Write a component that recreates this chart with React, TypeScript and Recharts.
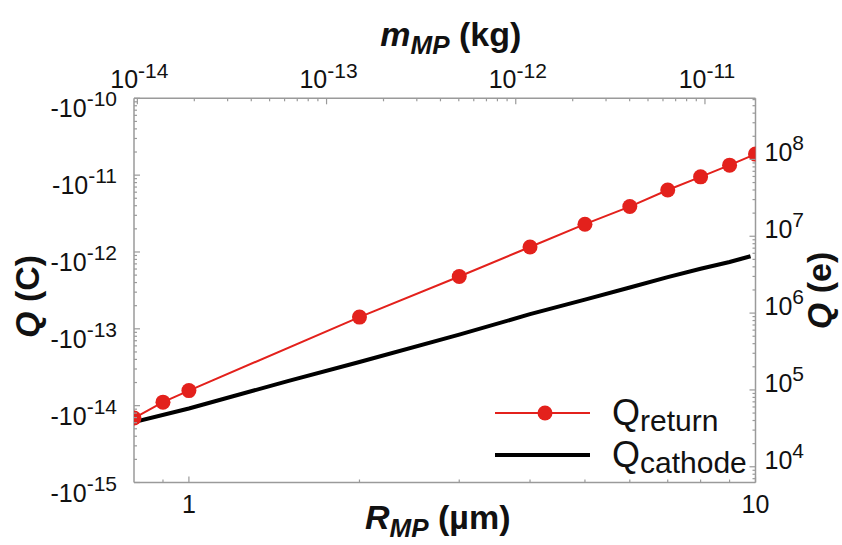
import { LineChart, Line, XAxis, YAxis, Legend } from "recharts"

const RED = "#e3211c"
const AXIS = "#9a9a9a"
const FONT = "'Liberation Sans', Arial, sans-serif"
const E_CHARGE = 1.602e-19

// Q_return samples (R in µm, Q in C)
const returnRadius = [0.8, 0.9, 1, 2, 3, 4, 5, 6, 7, 8, 9, 10]
const returnCharge = [
  -6.9e-15, -1.11e-14, -1.57e-14, -1.42e-13, -4.8e-13, -1.16e-12,
  -2.3e-12, -3.9e-12, -6.4e-12, -9.5e-12, -1.35e-11, -1.88e-11,
]

// Q_cathode curve
const cathodeRadius = [0.8, 1, 1.5, 2, 3, 4, 5, 6, 7, 8, 9, 9.8]
const cathodeCharge = [
  -6.1e-15, -9.2e-15, -2.1e-14, -3.7e-14, -8.4e-14, -1.55e-13,
  -2.4e-13, -3.45e-13, -4.7e-13, -6.05e-13, -7.4e-13, -8.8e-13,
]

// axes
const radiusDomain = [0.8, 10]
const radiusTicks = [0.9, 1, 2, 3, 4, 5, 6, 7, 8, 9, 10]
const radiusLabels = [1, 10]
const chargeExps = [-15, -14, -13, -12, -11, -10]
const electronExps = [4, 5, 6, 7, 8]
const massExps = [-14, -13, -12, -11]
const massDomain = [9.6e-15, 1.85e-11]

const withMinors = (exps: number[], lo: number, hi: number) => {
  const out: number[] = []
  for (let e = exps[0] - 1; e <= exps[exps.length - 1]; e++) {
    for (let k = 1; k < 10; k++) {
      const v = k * Math.pow(10, e)
      if (v >= lo * 0.999 && v <= hi * 1.001) out.push(v)
    }
  }
  return out
}

const chargeDomain = [1e-15, 1e-10]
const electronDomain = [chargeDomain[0] / E_CHARGE, chargeDomain[1] / E_CHARGE]
const chargeTicks = withMinors(chargeExps, chargeDomain[0], chargeDomain[1])
const electronTicks = withMinors(electronExps, electronDomain[0], electronDomain[1])
const massTicks = withMinors(massExps, massDomain[0], massDomain[1])

const returnData = returnRadius.map((r, i) => ({ r, q: -returnCharge[i] }))
const cathodeData = cathodeRadius.map((r, i) => ({ r, q: -cathodeCharge[i] }))
// invisible helper so the top (mass) axis gets a scale
const massEdges = massDomain.map((m) => ({ m, q: chargeDomain[0] }))

const isDecade = (v: number) => {
  const l = Math.log10(v)
  return Math.abs(l - Math.round(l)) < 1e-6
}

const tickStroke = { stroke: AXIS, strokeWidth: 1.2 }

const LeftTick = ({ x, y, payload }: any) => {
  const major = isDecade(payload.value)
  return (
    <g>
      <line x1={x} x2={x + (major ? 6 : 3)} y1={y} y2={y} {...tickStroke} />
      {major && (
        <text x={x - 17} y={y + 19} textAnchor="end" fill="#111" fontFamily={FONT}>
          <tspan fontSize={25}>-10</tspan>
          <tspan fontSize={21} dy={-11}>{Math.round(Math.log10(payload.value))}</tspan>
        </text>
      )}
    </g>
  )
}

const RightTick = ({ x, y, payload }: any) => {
  const major = isDecade(payload.value)
  return (
    <g>
      <line x1={x} x2={x - (major ? 6 : 3)} y1={y} y2={y} {...tickStroke} />
      {major && (
        <text x={x + 9} y={y + 2} textAnchor="start" fill="#111" fontFamily={FONT}>
          <tspan fontSize={25}>10</tspan>
          <tspan fontSize={21} dy={-11}>{Math.round(Math.log10(payload.value))}</tspan>
        </text>
      )}
    </g>
  )
}

const TopTick = ({ x, y, payload }: any) => {
  const major = isDecade(payload.value)
  return (
    <g>
      <line x1={x} x2={x} y1={y} y2={y + (major ? 6 : 3)} {...tickStroke} />
      {major && (
        <text x={x + 2} y={y - 10} textAnchor="middle" fill="#111" fontFamily={FONT}>
          <tspan fontSize={25}>10</tspan>
          <tspan fontSize={21} dy={-10}>{Math.round(Math.log10(payload.value))}</tspan>
        </text>
      )}
    </g>
  )
}

const BottomTick = ({ x, y, payload }: any) => {
  const v = payload.value
  const major = radiusLabels.includes(v)
  return (
    <g>
      <line x1={x} x2={x} y1={y} y2={y - (major ? 6 : 3)} {...tickStroke} />
      {major && (
        <text x={x} y={y + 30} textAnchor="middle" fill="#111" fontFamily={FONT} fontSize={25}>
          {v}
        </text>
      )}
    </g>
  )
}

const TitleText = ({ x, y, main, sub, unit, rotate }: any) => (
  <text
    x={x}
    y={y}
    textAnchor="middle"
    fill="#111"
    fontFamily={FONT}
    fontWeight="bold"
    fontSize={34}
    transform={rotate ? `rotate(-90 ${x} ${y})` : undefined}
  >
    <tspan fontStyle="italic">{main}</tspan>
    {sub && (
      <tspan fontStyle="italic" fontSize={26} dy={8}>
        {sub}
      </tspan>
    )}
    <tspan dy={sub ? -8 : 0}>{" " + unit}</tspan>
  </text>
)

const LegendBox = () => (
  <svg width={290} height={104} style={{ display: "block", overflow: "visible" }}>
    <line x1={5} x2={100} y1={32} y2={32} stroke={RED} strokeWidth={2} />
    <circle cx={55} cy={32} r={7.5} fill={RED} />
    <text x={122} y={44} fontFamily={FONT} fontSize={36} fill="#111">
      Q<tspan fontSize={30} dy={6}>return</tspan>
    </text>
    <line x1={5} x2={100} y1={74} y2={74} stroke="#000" strokeWidth={4} />
    <text x={122} y={86} fontFamily={FONT} fontSize={36} fill="#111">
      Q<tspan fontSize={30} dy={6}>cathode</tspan>
    </text>
  </svg>
)

export default function App() {
  return (
    <div
      style={{
        position: "absolute",
        left: 0,
        top: 0,
        width: 842,
        height: 545,
        background: "#fff",
        fontFamily: FONT,
      }}
    >
      <LineChart
        width={842}
        height={545}
        margin={{ top: 48.3, right: 16.5, bottom: 12.5, left: 44 }}
      >
        <XAxis
          xAxisId="bottom"
          dataKey="r"
          type="number"
          scale="log"
          domain={radiusDomain}
          allowDataOverflow
          ticks={radiusTicks}
          interval={0}
          height={50}
          tickSize={0}
          tickMargin={0}
          tick={<BottomTick />}
          axisLine={{ stroke: AXIS, strokeWidth: 1.5 }}
          label={{
            content: ({ viewBox }: any) => (
              <TitleText
                x={viewBox.x + viewBox.width / 2 - 7}
                y={viewBox.y + 46}
                main="R"
                sub="MP"
                unit="(µm)"
              />
            ),
          }}
        />
        <XAxis
          xAxisId="top"
          dataKey="m"
          orientation="top"
          type="number"
          scale="log"
          domain={massDomain}
          allowDataOverflow
          ticks={massTicks}
          interval={0}
          height={50}
          tickSize={0}
          tickMargin={0}
          tick={<TopTick />}
          axisLine={{ stroke: AXIS, strokeWidth: 1.5 }}
          label={{
            content: ({ viewBox }: any) => (
              <TitleText
                x={viewBox.x + viewBox.width / 2 + 6}
                y={viewBox.y + viewBox.height - 52}
                main="m"
                sub="MP"
                unit="(kg)"
              />
            ),
          }}
        />
        <YAxis
          yAxisId="left"
          type="number"
          scale="log"
          domain={chargeDomain}
          allowDataOverflow
          ticks={chargeTicks}
          interval={0}
          width={90}
          tickSize={0}
          tickMargin={0}
          tick={<LeftTick />}
          axisLine={{ stroke: AXIS, strokeWidth: 1.5 }}
          label={{
            content: ({ viewBox }: any) => (
              <TitleText x={39} y={viewBox.y + viewBox.height / 2 + 6} main="Q" unit="(C)" rotate />
            ),
          }}
        />
        <YAxis
          yAxisId="right"
          orientation="right"
          type="number"
          scale="log"
          domain={electronDomain}
          allowDataOverflow
          ticks={electronTicks}
          interval={0}
          width={70}
          tickSize={0}
          tickMargin={0}
          tick={<RightTick />}
          axisLine={{ stroke: AXIS, strokeWidth: 1.5 }}
          label={{
            content: ({ viewBox }: any) => (
              <TitleText x={831} y={viewBox.y + viewBox.height / 2} main="Q" unit="(e)" rotate />
            ),
          }}
        />
        <Line
          xAxisId="top"
          yAxisId="left"
          data={massEdges}
          dataKey="q"
          stroke="none"
          dot={false}
          activeDot={false}
          legendType="none"
          isAnimationActive={false}
        />
        <Line
          xAxisId="bottom"
          yAxisId="left"
          data={cathodeData}
          dataKey="q"
          stroke="#000"
          strokeWidth={4}
          dot={false}
          isAnimationActive={false}
        />
        <Line
          xAxisId="bottom"
          yAxisId="left"
          data={returnData}
          dataKey="q"
          stroke={RED}
          strokeWidth={2}
          dot={{ r: 7.5, fill: RED, stroke: RED, strokeWidth: 0 }}
          isAnimationActive={false}
        />
        <Legend
          layout="horizontal"
          verticalAlign="middle"
          align="center"
          content={() => <LegendBox />}
          wrapperStyle={{ position: "absolute", left: 490, top: 381, width: 290 }}
        />
      </LineChart>
    </div>
  )
}
